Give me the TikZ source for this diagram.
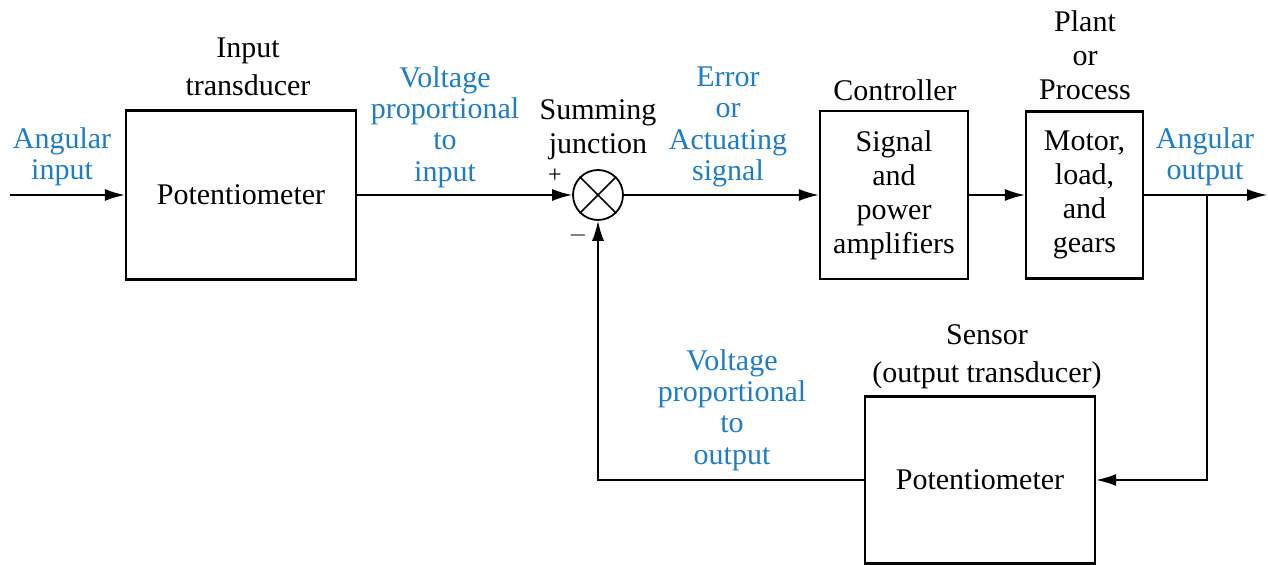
\documentclass[tikz,border=0pt]{standalone}
\usepackage{fontspec}
\setmainfont{Liberation Serif}
\usetikzlibrary{arrows.meta}
\definecolor{lblblue}{RGB}{30,125,195}
\begin{document}
\begin{tikzpicture}[x=0.5pt,y=-0.5pt,
  blk/.style={draw,line width=1.2pt,inner sep=0pt,align=center,font=\fontsize{15}{17}\selectfont},
  lbl/.style={inner sep=0pt,align=center,font=\fontsize{15}{17}\selectfont},
  wide/.style={font=\fontsize{15}{19}\selectfont},
  bl/.style={lbl,text=lblblue,font=\fontsize{15}{15.6}\selectfont},
  sgn/.style={inner sep=0pt,font=\fontsize{12}{12}\selectfont},
  arr/.style={line width=0.8pt,-{Latex[length=10pt,width=6pt]}}]
\useasboundingbox (0,0) rectangle (1268,565);
% blocks
\node[blk,minimum width=115pt,minimum height=84.5pt] (pot1) at (241,195) {Potentiometer};
\node[draw,circle,line width=0.9pt,minimum size=25pt,inner sep=0pt] (sum) at (598,195) {};
\draw[line width=0.8pt] (sum.north west) -- (sum.south east) (sum.north east) -- (sum.south west);
\node[blk,minimum width=74pt,minimum height=84pt] (ctl) at (894,195) {Signal\\and\\power\\amplifiers};
\node[blk,minimum width=58.5pt,minimum height=83.5pt] (plant) at (1084.5,195) {Motor,\\load,\\and\\gears};
\node[blk,minimum width=115pt,minimum height=83.5pt] (sens) at (980,480) {Potentiometer};
% labels
\node[bl] (ai) at (62,157) {Angular\\input};
\node[lbl,wide] (it) at (248,67) {Input\\transducer};
\node[bl] (vpi) at (445,127) {Voltage\\proportional\\to\\input};
\node[lbl] (sj) at (598,130) {Summing\\junction};
\node[sgn] (plus) at (555,176) {+};
\node[sgn] (minus) at (578,236) {$-$};
\node[bl] (err) at (728,127) {Error\\or\\Actuating\\signal};
\node[lbl] (ctll) at (895,90) {Controller};
\node[lbl] (pltl) at (1085,55) {Plant\\or\\Process};
\node[bl] (ao) at (1205,157) {Angular\\output};
\node[lbl,wide] (senl) at (987,357) {Sensor\\(output transducer)};
\node[bl] (vpo) at (732,410) {Voltage\\proportional\\to\\output};
% connectors
\coordinate (in) at (10,195);
\coordinate (out) at (1267,195);
\coordinate (br) at (1207,195);
\draw[arr] (in) -- (pot1.west);
\draw[arr] (pot1.east) -- (sum.west);
\draw[arr] (sum.east) -- (ctl.west);
\draw[arr] (ctl.east) -- (plant.west);
\draw[arr] (plant.east) -- (out);
\draw[arr] (br) -- (br |- sens.east) -- (sens.east);
\draw[arr] (sens.west) -| (sum.south);
\end{tikzpicture}
\end{document}
